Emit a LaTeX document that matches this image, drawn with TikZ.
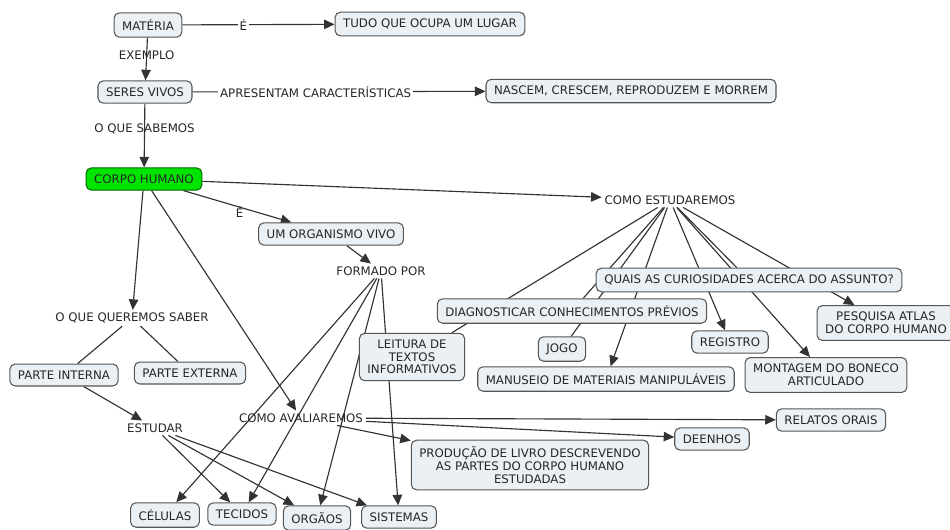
\documentclass[tikz,border=0pt]{standalone}
\usepackage{fontspec}
\setmainfont{DejaVu Sans}
\usetikzlibrary{arrows.meta,backgrounds}
\definecolor{conceptfill}{RGB}{234,240,244}
\definecolor{conceptdraw}{RGB}{85,85,85}
\definecolor{corpofill}{RGB}{0,228,0}
\begin{document}
\begin{tikzpicture}[x=0.02cm,y=-0.02cm,
    every node/.style={font=\fontsize{6.7}{7.2}\selectfont,text=black!85},
    concept/.style={draw=conceptdraw,fill=conceptfill,rounded corners=3pt,line width=0.6pt,inner xsep=4.6pt,inner ysep=3.8pt,align=center},
    mainconcept/.style={concept,fill=corpofill,draw=black!60!green},
    phrase/.style={inner sep=1.5pt,align=center},
    linklabel/.style={fill=white,inner sep=1pt},
    link/.style={line width=0.65pt,draw=black!80},
    linkarrow/.style={link,-{Triangle[length=6pt,width=5.4pt]}}]
\useasboundingbox (0,0) rectangle (950,529);

% Concepts at the top
\node[concept] (materia) at (148,25) {MATÉRIA};
\node[concept] (tudo) at (430,24) {TUDO QUE OCUPA UM LUGAR};
\node[concept] (seres) at (145,92) {SERES VIVOS};
\node[concept] (nascem) at (631,91) {NASCEM, CRESCEM, REPRODUZEM E MORREM};
\node[mainconcept] (corpo) at (144,179) {CORPO HUMANO};

% Linking phrases
\node[phrase] (estudaremos) at (670,200) {COMO ESTUDAREMOS};
\node[phrase] (formado) at (381,271) {FORMADO POR};
\node[phrase] (queremos) at (132,318) {O QUE QUEREMOS SABER};
\node[phrase] (avaliaremos) at (301,418) {COMO AVALIAREMOS};
\node[phrase] (estudar) at (155,428) {ESTUDAR};

% Concepts in the middle
\node[concept] (organismo) at (331,234) {UM ORGANISMO VIVO};
\node[concept] (quais) at (749,280) {QUAIS AS CURIOSIDADES ACERCA DO ASSUNTO?};
\node[concept] (diagnosticar) at (572,311) {DIAGNOSTICAR CONHECIMENTOS PRÉVIOS};
\node[concept] (pesquisa) at (886,323) {PESQUISA ATLAS\\DO CORPO HUMANO};
\node[concept] (leitura) at (412,357) {LEITURA DE\\TEXTOS\\INFORMATIVOS};
\node[concept] (registro) at (730,342) {REGISTRO};
\node[concept] (jogo) at (562,349) {JOGO};
\node[concept] (montagem) at (826,375) {MONTAGEM DO BONECO\\ARTICULADO};
\node[concept] (manuseio) at (606,379) {MANUSEIO DE MATERIAIS MANIPULÁVEIS};
\node[concept] (interna) at (64,375) {PARTE INTERNA};
\node[concept] (externa) at (190,373) {PARTE EXTERNA};

% Concepts at the bottom
\node[concept] (relatos) at (831,420) {RELATOS ORAIS};
\node[concept] (deenhos) at (712,439) {DEENHOS};
\node[concept] (producao) at (530,465) {PRODUÇÃO DE LIVRO DESCREVENDO\\AS PARTES DO CORPO HUMANO\\ESTUDADAS};
\node[concept] (celulas) at (165,515) {CÉLULAS};
\node[concept] (tecidos) at (242,514) {TECIDOS};
\node[concept] (orgaos) at (317,518) {ORGÃOS};
\node[concept] (sistemas) at (399,517) {SISTEMAS};

\begin{scope}[on background layer]
% Links from MATERIA and SERES VIVOS
\draw[linkarrow] (materia) -- node[linklabel,pos=0.4] {É} (tudo);
\draw[linkarrow] (materia) -- node[pos=0.42] {EXEMPLO} (seres);
\draw[linkarrow] (seres) -- node[linklabel,pos=0.42] {APRESENTAM CARACTERÍSTICAS} (nascem);
\draw[linkarrow] (seres) -- node[pos=0.4] {O QUE SABEMOS} (corpo);

% Links from CORPO HUMANO
\draw[linkarrow] (corpo) -- (estudaremos);
\draw[linkarrow] (corpo) -- node[pos=0.52,yshift=-3pt] {É} (organismo);
\draw[linkarrow] (corpo) -- (queremos);
\draw[linkarrow] (corpo) -- (avaliaremos);
\draw[linkarrow] (organismo) -- (formado);

% Links from COMO ESTUDAREMOS
\draw[link] (estudaremos) -- (leitura);
\draw[link] (estudaremos) -- (diagnosticar);
\draw[link] (estudaremos) -- (jogo);
\draw[link] (estudaremos) -- (quais);
\draw[linkarrow] (estudaremos) -- (manuseio);
\draw[linkarrow] (estudaremos) -- (registro);
\draw[linkarrow] (estudaremos) -- (montagem);
\draw[linkarrow] (estudaremos) -- (pesquisa);

% Links from FORMADO POR
\draw[linkarrow] (formado) -- (celulas);
\draw[linkarrow] (formado) -- (tecidos);
\draw[linkarrow] (formado) -- (orgaos);
\draw[linkarrow] (formado) -- (sistemas);

% Links from O QUE QUEREMOS SABER and ESTUDAR
\draw[link] (queremos) -- (interna);
\draw[link] (queremos) -- (externa);
\draw[linkarrow] (interna) -- (estudar);
\draw[linkarrow] (estudar) -- (tecidos);
\draw[linkarrow] (estudar) -- (orgaos);
\draw[linkarrow] (estudar) -- (sistemas);

% Links from COMO AVALIAREMOS
\draw[linkarrow] (avaliaremos) -- (relatos);
\draw[linkarrow] (avaliaremos) -- (deenhos);
\draw[linkarrow] (avaliaremos) -- (producao);
\end{scope}
\end{tikzpicture}
\end{document}
